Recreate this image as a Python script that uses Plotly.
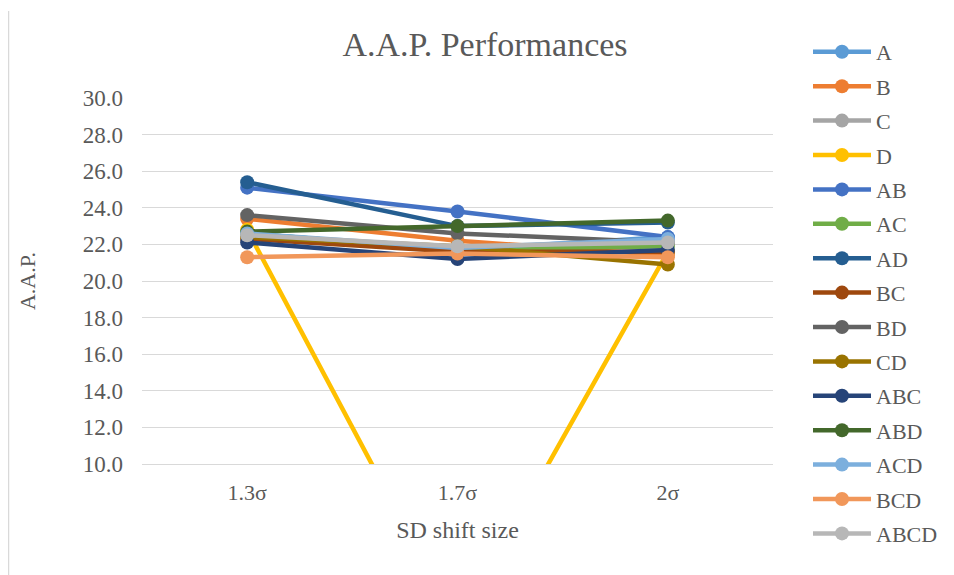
import plotly.graph_objects as go

categories = ["1.3σ", "1.7σ", "2σ"]
series_names = ["A", "B", "C", "D", "AB", "AC", "AD", "BC", "BD", "CD",
                "ABC", "ABD", "ACD", "BCD", "ABCD"]
A = [22.6, 21.7, 22.4]
B = [23.4, 22.2, 21.4]
C = [22.5, 21.8, 22.0]
D = [22.8, 1.2, 21.6]
AB = [25.1, 23.8, 22.4]
AC = [22.6, 21.7, 21.9]
AD = [25.4, 23.0, 23.2]
BC = [22.3, 21.6, 21.6]
BD = [23.6, 22.6, 22.1]
CD = [22.4, 21.9, 20.9]
ABC = [22.1, 21.2, 21.7]
ABD = [22.7, 23.0, 23.3]
ACD = [22.6, 21.8, 22.3]
BCD = [21.3, 21.5, 21.3]
ABCD = [22.5, 21.9, 22.1]
values = [A, B, C, D, AB, AC, AD, BC, BD, CD, ABC, ABD, ACD, BCD, ABCD]
colors = ["#5B9BD5", "#ED7D31", "#A5A5A5", "#FFC000", "#4472C4", "#70AD47",
          "#255E91", "#9E480E", "#636363", "#997300", "#264478", "#43682B",
          "#7CAFDD", "#F1975A", "#B7B7B7"]

FONT = "Liberation Serif, Times New Roman, serif"
TXT = "#595959"

# figure-coordinate plot area (page is offset by 8px body margin)
L, R, T, B_ = 134, 765, 90, 456
W, H = 954, 575
PW, PH = R - L, B_ - T

fig = go.Figure()
for name, vals, col in zip(series_names, values, colors):
    fig.add_trace(go.Scatter(
        x=categories, y=vals, name=name, legendgroup=name,
        mode="lines+markers",
        line=dict(color=col, width=4.5),
        marker=dict(color=col, size=14),
    ))

fig.update_layout(
    width=W, height=H,
    margin=dict(l=L, r=W - R, t=T, b=H - B_, autoexpand=False),
    paper_bgcolor="white", plot_bgcolor="white",
    font=dict(family=FONT, color=TXT, size=22),
    title=dict(text="A.A.P. Performances", x=477 / W, xanchor="center",
               y=1 - 36 / H, yanchor="middle",
               font=dict(family=FONT, size=34, color=TXT)),
    xaxis=dict(type="category", range=[-0.5, 2.5], showgrid=False,
               zeroline=False, showline=True, linecolor="#D9D9D9", linewidth=1,
               ticks="", tickfont=dict(size=22, color=TXT),
               ticklabelstandoff=9,
               title=dict(text="SD shift size", font=dict(size=24, color=TXT),
                          standoff=16)),
    yaxis=dict(range=[10, 30], dtick=2, tickformat=".1f",
               showgrid=True, gridcolor="#D9D9D9", gridwidth=1,
               zeroline=False, showline=False, ticks="",
               tickfont=dict(size=23, color=TXT),
               ticklabelstandoff=18,
               title=dict(text="A.A.P.", font=dict(size=22, color=TXT),
                          standoff=41)),
    legend=dict(x=(800 - L) / PW, xanchor="left",
                y=(B_ - 23) / PH, yanchor="top",
                font=dict(size=22, color=TXT), tracegroupgap=2.8,
                traceorder="grouped", itemwidth=58,
                maxheight=570,
                bgcolor="rgba(0,0,0,0)"),
    showlegend=True,
)
fig.add_shape(type="line", xref="paper", yref="paper",
              x0=(-L + 0.5) / PW, x1=(-L + 0.5) / PW,
              y0=-(H - B_) / PH, y1=1 + (T - 3) / PH,
              line=dict(color="#D9D9D9", width=1.5), layer="below")

fig.write_html("out.html")
